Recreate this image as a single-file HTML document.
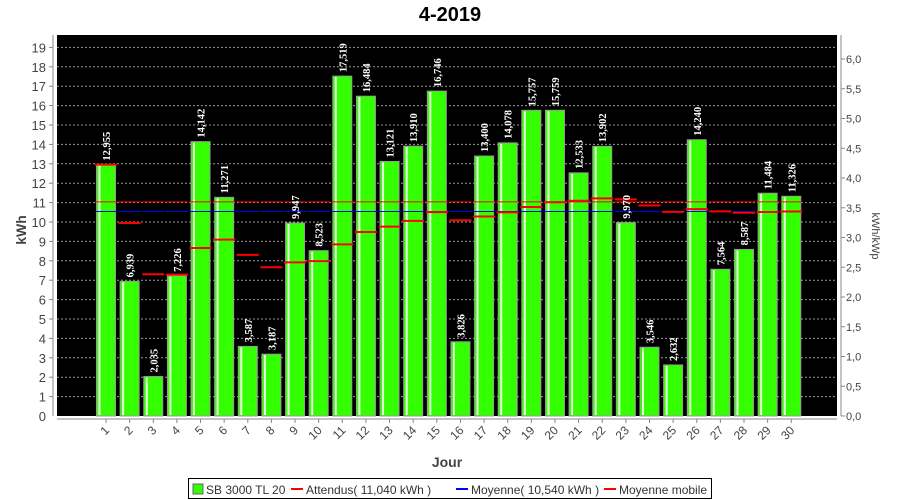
<!DOCTYPE html>
<html><head><meta charset="utf-8"><style>
html,body{margin:0;padding:0;background:#fff;}
svg{display:block;font-family:"Liberation Sans",sans-serif;}
</style></head><body>
<svg width="900" height="500" xmlns="http://www.w3.org/2000/svg">
<text x="450" y="21" text-anchor="middle" font-size="20" font-weight="bold" fill="#000">4-2019</text>
<rect x="57" y="35" width="780" height="381" fill="#000"/>
<g id="grid" stroke="#999" stroke-dasharray="2,2" stroke-width="1"></g>
<g id="bars"></g>
<line x1="53" y1="35" x2="53" y2="416" stroke="#888"/>
<line x1="841" y1="35" x2="841" y2="416" stroke="#888"/>
<line x1="57" y1="419" x2="837" y2="419" stroke="#888"/>
<g id="ylab" font-size="13" fill="#444" text-anchor="end"></g>
<g id="rlab" font-size="11" fill="#444"></g>
<g id="xlab" font-size="12" fill="#444"></g>
<text transform="translate(26,230) rotate(-90)" font-size="14" font-weight="bold" fill="#444" text-anchor="middle">kWh</text>
<text transform="translate(872,236) rotate(90)" font-size="11" fill="#444" text-anchor="middle">kWh/kWp</text>
<text x="447" y="467" font-size="14" font-weight="bold" fill="#444" text-anchor="middle">Jour</text>
<rect x="188.5" y="478.5" width="523" height="20" fill="#fff" stroke="#000"/>
<rect x="193" y="484" width="10" height="10" fill="#33ff00" stroke="#666"/>
<text x="206" y="494" font-size="12" fill="#333">SB 3000 TL 20</text>
<line x1="291" y1="489" x2="303" y2="489" stroke="#f00" stroke-width="2"/>
<text x="306" y="494" font-size="12" fill="#333">Attendus( 11,040 kWh )</text>
<line x1="456" y1="489" x2="468" y2="489" stroke="#00f" stroke-width="2"/>
<text x="471" y="494" font-size="12" fill="#333">Moyenne( 10,540 kWh )</text>
<line x1="604" y1="489" x2="616" y2="489" stroke="#f00" stroke-width="2"/>
<text x="619" y="494" font-size="12" fill="#333">Moyenne mobile</text>
</svg>
<script>
const ns="http://www.w3.org/2000/svg";
function el(p,t,a,txt){const e=document.createElementNS(ns,t);for(const k in a)e.setAttribute(k,a[k]);if(txt!==undefined)e.textContent=txt;document.querySelector(p).appendChild(e);return e;}
const Y=v=>416-v*19.4;
for(let i=1;i<=19;i++){el('#grid','line',{x1:57,x2:837,y1:Y(i),y2:Y(i)});el('#ylab','text',{x:46,y:Y(i)+5},i);el('#ylab','line',{x1:49,x2:53,y1:Y(i),y2:Y(i),stroke:'#888'});}
el('#ylab','text',{x:46,y:Y(0)+5},0);
for(let k=0;k<=12;k++){const v=k*0.5,y=416-v*59.5;el('#rlab','text',{x:846,y:y+4},v.toFixed(1).replace('.',','));el('#rlab','line',{x1:841,x2:845,y1:y,y2:y,stroke:'#888'});}
const d=[12.955,6.939,2.035,7.226,14.142,11.271,3.587,3.187,9.947,8.523,17.519,16.484,13.121,13.910,16.746,3.826,13.400,14.078,15.757,15.759,12.533,13.902,9.970,3.546,2.632,14.240,7.564,8.587,11.484,11.326];
let s=0;
d.forEach((v,i)=>{const c=106+i*23.63,x=c-9.5;s+=v;const m=s/(i+1);
el('#bars','rect',{x:x,y:Y(v),width:19,height:416-Y(v),fill:'#33ff00',stroke:'#999','stroke-width':1});
el('#bars','rect',{x:x+2,y:Y(v)+1,width:2,height:415-Y(v)-1,fill:'#e8ffe0'});
el('#bars','line',{x1:c-11,x2:c+11,y1:Y(11.04),y2:Y(11.04),stroke:'#f00','stroke-width':1});
el('#bars','line',{x1:c-11,x2:c+11,y1:Y(10.54),y2:Y(10.54),stroke:'#00f','stroke-width':1});
el('#bars','line',{x1:c-11,x2:c+11,y1:Y(m),y2:Y(m),stroke:'#f00','stroke-width':2});
el('#bars','text',{transform:`translate(${c+4},${Y(v)-4}) rotate(-90)`,'font-size':10.5,'font-weight':'bold','font-family':'Liberation Serif,serif',fill:'#fff'},v.toFixed(3).replace('.',','));
el('#xlab','line',{x1:c,x2:c,y1:419,y2:423,stroke:'#888'});
el('#xlab','text',{transform:`translate(${c+4},${431}) rotate(-45)`,'text-anchor':'end'},i+1);
});
</script>
</body></html>
